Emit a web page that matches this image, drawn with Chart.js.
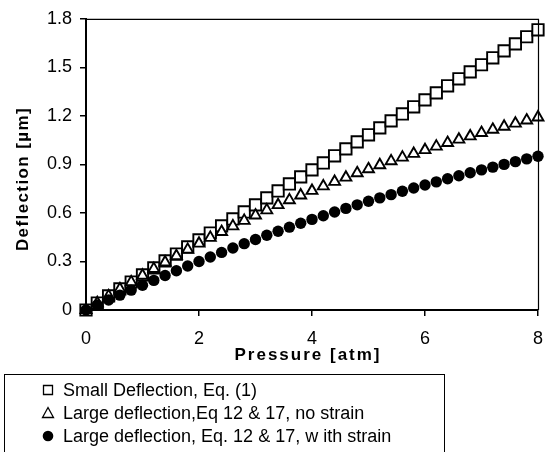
<!DOCTYPE html>
<html>
<head>
<meta charset="utf-8">
<script src="https://cdn.jsdelivr.net/npm/chart.js@4/dist/chart.umd.min.js"></script>
<style>
  html, body { margin: 0; padding: 0; background: #fff; }
  canvas { display: block; }
</style>
</head>
<body>
<canvas id="deflChart" width="551" height="452"></canvas>
<script>
//--------------------------------DATA---------------------------------------

// pressure in atm, one point every 0.2 atm
const pressure = [0, 0.2, 0.4, 0.6, 0.8, 1.0, 1.2, 1.4, 1.6, 1.8,
    2.0, 2.2, 2.4, 2.6, 2.8, 3.0, 3.2, 3.4, 3.6, 3.8,
    4.0, 4.2, 4.4, 4.6, 4.8, 5.0, 5.2, 5.4, 5.6, 5.8,
    6.0, 6.2, 6.4, 6.6, 6.8, 7.0, 7.2, 7.4, 7.6, 7.8, 8.0];

// deflection in um
const smallDefl = [0, 0.043, 0.087, 0.130, 0.173, 0.217, 0.260, 0.303, 0.346, 0.390,
    0.433, 0.476, 0.520, 0.563, 0.606, 0.650, 0.693, 0.736, 0.779, 0.823,
    0.866, 0.909, 0.953, 0.996, 1.039, 1.083, 1.126, 1.169, 1.212, 1.256,
    1.299, 1.342, 1.386, 1.429, 1.472, 1.516, 1.559, 1.602, 1.645, 1.689, 1.732];

const largeNoStrain = [0, 0.043, 0.086, 0.129, 0.172, 0.213, 0.254, 0.295, 0.334, 0.373,
    0.411, 0.447, 0.483, 0.518, 0.552, 0.585, 0.617, 0.649, 0.679, 0.709,
    0.737, 0.765, 0.793, 0.819, 0.846, 0.871, 0.896, 0.920, 0.943, 0.966,
    0.989, 1.011, 1.033, 1.054, 1.074, 1.095, 1.115, 1.134, 1.153, 1.172, 1.191];

const largeStrain = [0, 0.031, 0.062, 0.092, 0.123, 0.153, 0.183, 0.213, 0.243, 0.272,
    0.300, 0.328, 0.356, 0.383, 0.410, 0.436, 0.462, 0.487, 0.512, 0.536,
    0.560, 0.583, 0.606, 0.628, 0.650, 0.672, 0.693, 0.713, 0.734, 0.754,
    0.773, 0.792, 0.811, 0.830, 0.848, 0.866, 0.883, 0.900, 0.917, 0.934, 0.950];

const seriesLabels = [
    'Small Deflection, Eq. (1)',
    'Large deflection,Eq 12 & 17, no strain',
    'Large deflection, Eq. 12 & 17, w ith strain'
];

const xTicks = [0, 2, 4, 6, 8];
const yTicks = [0, 0.3, 0.6, 0.9, 1.2, 1.5, 1.8];

const xTitle = 'Pressure [atm]';
const yTitle = 'Deflection [\u00b5m]';

//--------------------------------HELPERS---------------------------------------

const FONT = '"Liberation Sans", Arial, sans-serif';

function toPoints(ys) {
    return pressure.map((p, i) => ({ x: p, y: ys[i] }));
}

// frame on top / right + axis titles + boxed legend
const framePlugin = {
    id: 'frame',
    afterDraw(chart) {
        const ctx = chart.ctx;
        const a = chart.chartArea;
        ctx.save();

        // thin top and right border
        ctx.strokeStyle = '#000';
        ctx.lineWidth = 1.2;
        ctx.beginPath();
        ctx.moveTo(a.left, a.top + 0.5);
        ctx.lineTo(a.right + 0.5, a.top + 0.5);
        ctx.lineTo(a.right + 0.5, a.bottom);
        ctx.stroke();

        // axis titles
        ctx.fillStyle = '#000';
        ctx.font = 'bold 17px ' + FONT;
        ctx.letterSpacing = '2px';
        ctx.textAlign = 'center';
        ctx.textBaseline = 'middle';
        ctx.fillText(xTitle, 308, 355);

        ctx.save();
        ctx.letterSpacing = '1.4px';
        ctx.translate(23, 179);
        ctx.rotate(-Math.PI / 2);
        ctx.fillText(yTitle, 0, 0);
        ctx.restore();

        // legend box
        ctx.letterSpacing = '0px';
        ctx.lineWidth = 1;
        ctx.strokeRect(4.5, 374.5, 440, 90);

        const rows = [390, 413, 436];
        const mx = 48;
        ctx.font = '18px ' + FONT;
        ctx.textAlign = 'left';
        ctx.lineWidth = 1.3;

        // square
        ctx.fillStyle = '#fff';
        ctx.beginPath();
        ctx.rect(mx - 4.5, rows[0] - 4.5, 9, 9);
        ctx.fill();
        ctx.stroke();

        // triangle
        ctx.beginPath();
        ctx.moveTo(mx, rows[1] - 5.5);
        ctx.lineTo(mx + 5.5, rows[1] + 4.5);
        ctx.lineTo(mx - 5.5, rows[1] + 4.5);
        ctx.closePath();
        ctx.fill();
        ctx.stroke();

        // dot
        ctx.fillStyle = '#000';
        ctx.beginPath();
        ctx.arc(mx, rows[2], 5.3, 0, Math.PI * 2);
        ctx.fill();

        seriesLabels.forEach((lbl, i) => {
            ctx.fillText(lbl, 63, rows[i] + 1);
        });

        ctx.restore();
    }
};

//--------------------------------CHART---------------------------------------

const ctx = document.getElementById('deflChart').getContext('2d');
const deflChart = new Chart(ctx, {
    type: 'scatter',
    data: {
        datasets: [
            {
                label: seriesLabels[0],
                data: toPoints(smallDefl),
                pointStyle: 'rect',
                pointRadius: 8,
                pointBackgroundColor: '#fff',
                pointBorderColor: '#000',
                pointBorderWidth: 1.9,
                showLine: false,
                clip: false,
                order: 3
            },
            {
                label: seriesLabels[1],
                data: toPoints(largeNoStrain),
                pointStyle: 'triangle',
                pointRadius: 6.3,
                pointBackgroundColor: '#fff',
                pointBorderColor: '#000',
                pointBorderWidth: 1.9,
                showLine: false,
                clip: false,
                order: 2
            },
            {
                label: seriesLabels[2],
                data: toPoints(largeStrain),
                pointStyle: 'circle',
                pointRadius: 5.7,
                pointBackgroundColor: '#000',
                pointBorderColor: '#000',
                pointBorderWidth: 0,
                showLine: false,
                clip: false,
                order: 1
            }
        ]
    },
    options: {
        responsive: false,
        animation: false,
        devicePixelRatio: 1,
        layout: {
            padding: { left: 0, right: 13, top: 16, bottom: 0 }
        },
        plugins: {
            legend: { display: false },
            tooltip: { enabled: false }
        },
        scales: {
            x: {
                type: 'linear',
                min: 0,
                max: 8,
                afterBuildTicks: (scale) => {
                    scale.ticks = xTicks.map(v => ({ value: v }));
                },
                afterFit: (scale) => {
                    scale.height = 142;
                    scale.paddingLeft = 0;
                    scale.paddingRight = 0;
                },
                ticks: {
                    color: '#000',
                    font: { size: 18, family: FONT },
                    padding: 12,
                    maxRotation: 0
                },
                grid: {
                    drawOnChartArea: false,
                    tickLength: 6,
                    color: '#000',
                    lineWidth: 1.5
                },
                border: { display: true, color: '#000', width: 2 }
            },
            y: {
                type: 'linear',
                min: 0,
                max: 1.8,
                afterBuildTicks: (scale) => {
                    scale.ticks = yTicks.map(v => ({ value: v }));
                },
                afterFit: (scale) => { scale.width = 86; },
                ticks: {
                    color: '#000',
                    font: { size: 18, family: FONT },
                    padding: 8,
                    callback: (v) => String(v)
                },
                grid: {
                    drawOnChartArea: false,
                    tickLength: 6,
                    color: '#000',
                    lineWidth: 1.5
                },
                border: { display: true, color: '#000', width: 2 }
            }
        }
    },
    plugins: [framePlugin]
});
</script>
</body>
</html>
